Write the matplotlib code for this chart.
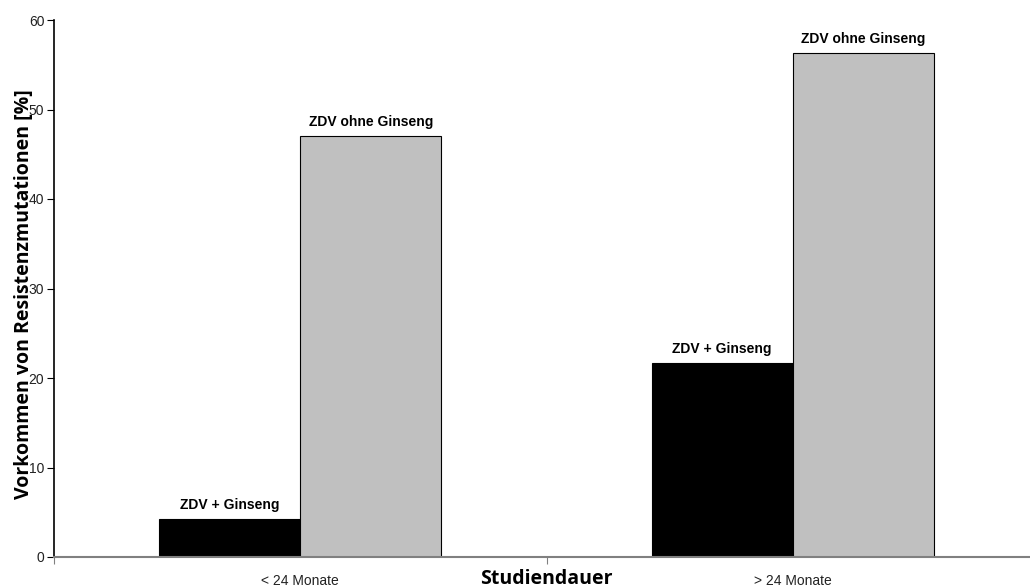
import matplotlib.pyplot as plt
import numpy as np

categories = ["< 24 Monate", "> 24 Monate"]
mit_ginseng = [4.2, 21.7]
ohne_ginseng = [47.0, 56.3]
bar_labels = ["ZDV + Ginseng", "ZDV ohne Ginseng"]
y_ticks = [0, 10, 20, 30, 40, 50, 60]

fig = plt.figure(figsize=(10.30, 5.87), dpi=100)
# axes runs a bit past the right edge, like the original export
ax = fig.add_axes([54 / 1030, 30 / 587, 985 / 1030, 537 / 587])

x = np.arange(len(categories))
w = 0.2866
b1 = ax.bar(x - w / 2, mit_ginseng, w, color="black", edgecolor="black", linewidth=0.8)
b2 = ax.bar(x + w / 2, ohne_ginseng, w, color="#C0C0C0", edgecolor="black", linewidth=0.8)

for bars, lab in [(b1, bar_labels[0]), (b2, bar_labels[1])]:
    for r in bars:
        ax.annotate(lab, (r.get_x() + r.get_width() / 2, r.get_height()),
                    xytext=(0, 5), textcoords="offset points", ha="center", va="bottom",
                    fontsize=10, fontweight="bold", family="Liberation Sans")

ax.set_xlim(-0.5, 1.5)
ax.set_ylim(0, 60)
ax.set_yticks(y_ticks)
ax.set_xticks([-0.5, 0.5, 1.5])
ax.set_xticklabels([])
ax.set_xticks(x, minor=True)
ax.set_xticklabels(categories, minor=True)
ax.tick_params(axis="x", which="minor", length=0, pad=12, labelsize=10)
ax.tick_params(axis="x", which="major", length=5, color="#808080")
ax.tick_params(axis="y", length=5, labelsize=10, pad=2)
for lbl in ax.get_xticklabels(minor=True) + ax.get_yticklabels():
    lbl.set_family("Liberation Sans")
    lbl.set_color("#222222")

ax.spines["top"].set_visible(False)
ax.spines["right"].set_visible(False)
ax.spines["bottom"].set_color("#808080")
ax.spines["bottom"].set_linewidth(1.5)
ax.spines["left"].set_linewidth(1.2)

ax.set_ylabel("Vorkommen von Resistenzmutationen [%]", fontsize=14, fontweight="bold",
              family="Open Sans", va="center")
ax.yaxis.set_label_coords(-0.030, 0.49)
fig.text(546 / 1030, 1 - 579 / 587, "Studiendauer", ha="center", va="center",
         fontsize=14, fontweight="bold", family="Open Sans")

fig.savefig("out.png", dpi=100)
